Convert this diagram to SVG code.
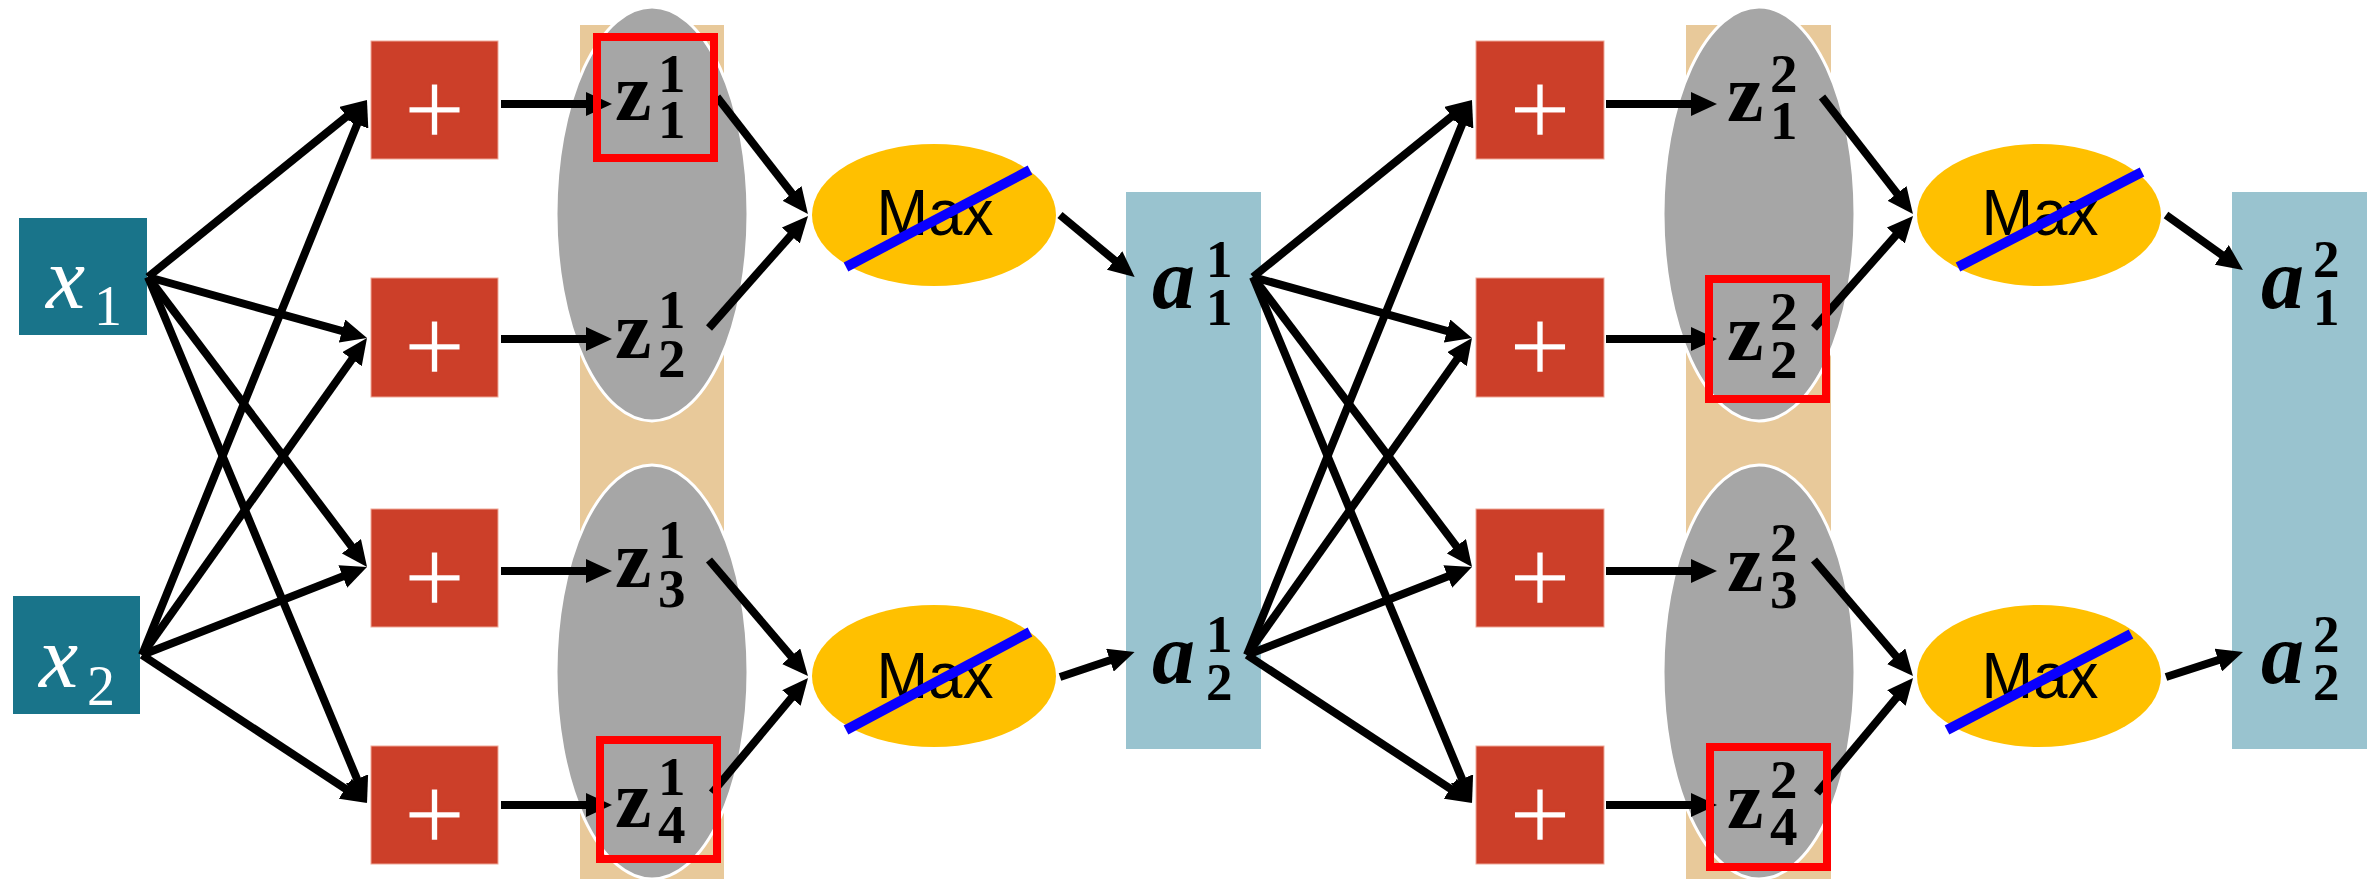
<svg xmlns="http://www.w3.org/2000/svg" width="2380" height="879" viewBox="0 0 2380 879">
  <defs>
    <marker id="ah" markerUnits="userSpaceOnUse" markerWidth="26" markerHeight="24" viewBox="0 0 26 24" refX="8" refY="12" orient="auto">
      <path d="M0,0 L26,12 L0,24 Z" fill="#000"/>
    </marker>
  </defs>
  <style>
    .inp{fill:#19748A}
    .sum{fill:#CC3F29;stroke:#EFA898;stroke-width:1}
    .band{fill:#E8C99A}
    .pool{fill:#A6A6A6;stroke:#FFFFFF;stroke-width:3}
    .hl{fill:none;stroke:#FF0000;stroke-width:8}
    .max{fill:#FFC000}
    .strike{stroke:#0A00FF;stroke-width:10}
    .act{fill:#99C3CF}
    .edges line{stroke:#000;stroke-width:8;fill:none;marker-end:url(#ah)}
    .plus{font-family:"Liberation Sans",Arial,sans-serif;font-size:108px;fill:#FFFFFF;stroke:#CC3F29;stroke-width:2.4;text-anchor:middle}
    .maxt{font-family:"Liberation Sans",Arial,sans-serif;font-size:65px;fill:#000;text-anchor:middle}
    .zv{font-family:"Liberation Serif","Times New Roman",serif;font-weight:bold;fill:#000}
    .zv .b{font-size:82px}
    .zv .s{font-size:55px}
    .av{font-family:"Liberation Serif","Times New Roman",serif;font-weight:bold;fill:#000}
    .av .b{font-size:86px;font-style:italic}
    .av .s{font-size:53px}
    .xv{font-family:"Liberation Serif","Times New Roman",serif;fill:#FFFFFF}
    .xv .b{font-size:88px;font-style:italic}
    .xv .s{font-size:56px}
  </style>

  <!-- background bands and pooling groups -->
  <g id="bands">
    <rect class="band" x="580" y="25" width="144" height="854"/>
    <rect class="band" x="1686" y="25" width="145" height="854"/>
  </g>
  <g id="pool-groups">
    <ellipse class="pool" cx="652" cy="214" rx="96" ry="207"/>
    <ellipse class="pool" cx="652" cy="672" rx="96" ry="207"/>
    <ellipse class="pool" cx="1759" cy="214" rx="96" ry="207"/>
    <ellipse class="pool" cx="1759" cy="672" rx="96" ry="207"/>
  </g>

  <!-- inputs -->
  <g id="x1">
    <rect class="inp" x="19" y="218" width="128" height="117"/>
    <text class="xv"><tspan class="b" x="46" y="308">x</tspan><tspan class="s" x="94" y="325">1</tspan></text>
  </g>
  <g id="x2">
    <rect class="inp" x="13" y="596" width="127" height="118"/>
    <text class="xv"><tspan class="b" x="39" y="687">x</tspan><tspan class="s" x="87" y="705">2</tspan></text>
  </g>

  <!-- layer 1 summation nodes -->
  <g id="sum1-1"><rect class="sum" x="371" y="41" width="127" height="118"/><text class="plus" x="434.5" y="145">+</text></g>
  <g id="sum1-2"><rect class="sum" x="371" y="278" width="127" height="119"/><text class="plus" x="434.5" y="382">+</text></g>
  <g id="sum1-3"><rect class="sum" x="371" y="509" width="127" height="118"/><text class="plus" x="434.5" y="613">+</text></g>
  <g id="sum1-4"><rect class="sum" x="371" y="746" width="127" height="118"/><text class="plus" x="434.5" y="850">+</text></g>

  <!-- layer 1 max units -->
  <g id="max1-1">
    <ellipse class="max" cx="934" cy="215" rx="122" ry="71"/>
    <text class="maxt" x="935" y="235" textLength="117" lengthAdjust="spacingAndGlyphs">Max</text>
    <line class="strike" x1="846" y1="267" x2="1030" y2="170"/>
  </g>
  <g id="max1-2">
    <ellipse class="max" cx="934" cy="676" rx="122" ry="71"/>
    <text class="maxt" x="935" y="698" textLength="117" lengthAdjust="spacingAndGlyphs">Max</text>
    <line class="strike" x1="846" y1="730" x2="1030" y2="632"/>
  </g>

  <!-- layer 1 outputs -->
  <g id="a1">
    <rect class="act" x="1126" y="192" width="135" height="557"/>
  </g>

  <!-- layer 2 summation nodes -->
  <g id="sum2-1"><rect class="sum" x="1476" y="41" width="128" height="118"/><text class="plus" x="1540" y="145">+</text></g>
  <g id="sum2-2"><rect class="sum" x="1476" y="278" width="128" height="119"/><text class="plus" x="1540" y="382">+</text></g>
  <g id="sum2-3"><rect class="sum" x="1476" y="509" width="128" height="118"/><text class="plus" x="1540" y="613">+</text></g>
  <g id="sum2-4"><rect class="sum" x="1476" y="746" width="128" height="118"/><text class="plus" x="1540" y="850">+</text></g>

  <!-- layer 2 max units -->
  <g id="max2-1">
    <ellipse class="max" cx="2039" cy="215" rx="122" ry="71"/>
    <text class="maxt" x="2040" y="235" textLength="117" lengthAdjust="spacingAndGlyphs">Max</text>
    <line class="strike" x1="1958" y1="267" x2="2142" y2="172"/>
  </g>
  <g id="max2-2">
    <ellipse class="max" cx="2039" cy="676" rx="122" ry="71"/>
    <text class="maxt" x="2040" y="698" textLength="117" lengthAdjust="spacingAndGlyphs">Max</text>
    <line class="strike" x1="1947" y1="730" x2="2131" y2="634"/>
  </g>

  <!-- layer 2 outputs -->
  <g id="a2">
    <rect class="act" x="2232" y="192" width="135" height="557"/>
  </g>

  <!-- connectors -->
  <g id="connectors" class="edges">
    <!-- x -> layer 1 sums -->
    <line x1="148" y1="277" x2="353.0" y2="111.3"/>
    <line x1="148" y1="277" x2="349.7" y2="333.2"/>
    <line x1="148" y1="277" x2="356.2" y2="552.6"/>
    <line x1="148" y1="277" x2="360.1" y2="786.4"/>
    <line x1="142" y1="655" x2="360.2" y2="116.7"/>
    <line x1="142" y1="655" x2="356.6" y2="352.7"/>
    <line x1="142" y1="655" x2="350.2" y2="573.6"/>
    <line x1="142" y1="655" x2="352.0" y2="793.1"/>
    <!-- sums -> z (layer 1) -->
    <line x1="501" y1="104" x2="594" y2="104"/>
    <line x1="501" y1="339" x2="594" y2="339"/>
    <line x1="501" y1="571" x2="594" y2="571"/>
    <line x1="501" y1="805" x2="594" y2="805"/>
    <!-- z -> max (layer 1) -->
    <line x1="717" y1="97" x2="796.9" y2="199.8"/>
    <line x1="709" y1="328" x2="796.1" y2="229.5"/>
    <line x1="709" y1="560" x2="796.3" y2="662.3"/>
    <line x1="712" y1="793" x2="796.5" y2="691.8"/>
    <!-- max -> a (layer 1) -->
    <line x1="1060" y1="215" x2="1120.8" y2="265.5"/>
    <line x1="1060" y1="677" x2="1117.5" y2="657.7"/>
    <!-- a -> layer 2 sums -->
    <line x1="1253" y1="277" x2="1458.0" y2="111.3"/>
    <line x1="1253" y1="277" x2="1454.7" y2="333.2"/>
    <line x1="1253" y1="277" x2="1461.2" y2="552.6"/>
    <line x1="1253" y1="277" x2="1465.1" y2="786.4"/>
    <line x1="1247" y1="655" x2="1465.2" y2="116.7"/>
    <line x1="1247" y1="655" x2="1461.6" y2="352.7"/>
    <line x1="1247" y1="655" x2="1455.2" y2="573.6"/>
    <line x1="1247" y1="655" x2="1457.0" y2="793.1"/>
    <!-- sums -> z (layer 2) -->
    <line x1="1606" y1="104" x2="1699" y2="104"/>
    <line x1="1606" y1="339" x2="1699" y2="339"/>
    <line x1="1606" y1="571" x2="1699" y2="571"/>
    <line x1="1606" y1="805" x2="1699" y2="805"/>
    <!-- z -> max (layer 2) -->
    <line x1="1822" y1="97" x2="1901.9" y2="199.8"/>
    <line x1="1814" y1="328" x2="1901.1" y2="229.5"/>
    <line x1="1814" y1="560" x2="1901.3" y2="662.3"/>
    <line x1="1817" y1="793" x2="1901.5" y2="691.8"/>
    <!-- max -> a (layer 2) -->
    <line x1="2166" y1="215" x2="2228.3" y2="259.5"/>
    <line x1="2166" y1="677" x2="2225.9" y2="657.6"/>
  </g>

  <!-- pre-activation values, layer 1 -->
  <g id="z1-1"><text class="zv"><tspan class="b" x="615" y="120">z</tspan><tspan class="s" x="658" y="92">1</tspan><tspan class="s" x="658" y="138">1</tspan></text></g>
  <g id="z1-2"><text class="zv"><tspan class="b" x="615" y="358">z</tspan><tspan class="s" x="658" y="328">1</tspan><tspan class="s" x="658" y="377">2</tspan></text></g>
  <g id="z1-3"><text class="zv"><tspan class="b" x="615" y="587">z</tspan><tspan class="s" x="658" y="558">1</tspan><tspan class="s" x="658" y="607">3</tspan></text></g>
  <g id="z1-4"><text class="zv"><tspan class="b" x="615" y="827">z</tspan><tspan class="s" x="658" y="795">1</tspan><tspan class="s" x="658" y="843">4</tspan></text></g>

  <!-- pre-activation values, layer 2 -->
  <g id="z2-1"><text class="zv"><tspan class="b" x="1727" y="121">z</tspan><tspan class="s" x="1770" y="92">2</tspan><tspan class="s" x="1770" y="139">1</tspan></text></g>
  <g id="z2-2"><text class="zv"><tspan class="b" x="1727" y="360">z</tspan><tspan class="s" x="1770" y="330">2</tspan><tspan class="s" x="1770" y="378">2</tspan></text></g>
  <g id="z2-3"><text class="zv"><tspan class="b" x="1727" y="591">z</tspan><tspan class="s" x="1770" y="561">2</tspan><tspan class="s" x="1770" y="608">3</tspan></text></g>
  <g id="z2-4"><text class="zv"><tspan class="b" x="1727" y="828">z</tspan><tspan class="s" x="1770" y="798">2</tspan><tspan class="s" x="1770" y="845">4</tspan></text></g>

  <!-- selected maxima -->
  <g id="highlights">
    <rect class="hl" x="597" y="37" width="117" height="121"/>
    <rect class="hl" x="600" y="740" width="117" height="119"/>
    <rect class="hl" x="1709" y="279" width="117" height="120"/>
    <rect class="hl" x="1710" y="747" width="117" height="120"/>
  </g>

  <!-- activation labels -->
  <g id="a1-labels">
    <text class="av"><tspan class="b" x="1152" y="308">a</tspan><tspan class="s" x="1206" y="277">1</tspan><tspan class="s" x="1206" y="325">1</tspan></text>
    <text class="av"><tspan class="b" x="1152" y="683">a</tspan><tspan class="s" x="1206" y="652">1</tspan><tspan class="s" x="1206" y="700">2</tspan></text>
  </g>
  <g id="a2-labels">
    <text class="av"><tspan class="b" x="2261" y="308">a</tspan><tspan class="s" x="2313" y="277">2</tspan><tspan class="s" x="2313" y="325">1</tspan></text>
    <text class="av"><tspan class="b" x="2261" y="683">a</tspan><tspan class="s" x="2313" y="652">2</tspan><tspan class="s" x="2313" y="700">2</tspan></text>
  </g>
</svg>
